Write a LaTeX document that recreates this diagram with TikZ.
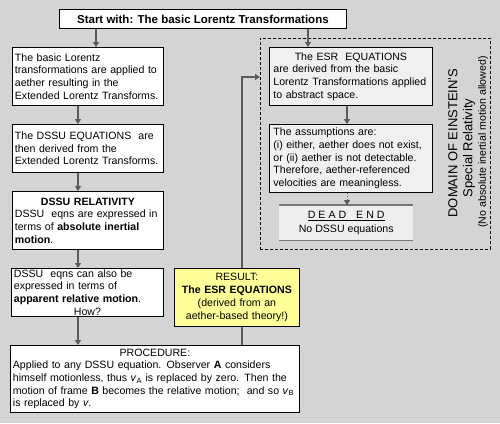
\documentclass[tikz,border=0pt]{standalone}
\usepackage{fontspec}
\setmainfont{Liberation Sans}
\usetikzlibrary{arrows.meta}
\definecolor{bggray}{HTML}{D4D4D4}
\definecolor{arrgray}{HTML}{5A5A5A}
\definecolor{esrfill}{HTML}{F0F0F0}
\definecolor{resfill}{HTML}{FFFF99}
\definecolor{defill}{HTML}{EEEEEE}
\definecolor{deline}{HTML}{777777}
\newcommand{\bodyfont}{\fontsize{10.6}{12.7}\selectfont}
\newcommand{\ctrline}[1]{\makebox[\hsize]{#1}}
\begin{document}
\begin{tikzpicture}[x=1pt,y=-1pt,
  box/.style={draw=black, line width=0.8pt, fill=white, anchor=north west,
    inner xsep=2.5pt, inner ysep=1pt, align=left, font=\bodyfont},
  esrbox/.style={box, fill=esrfill, inner xsep=4pt},
  resbox/.style={box, fill=resfill, align=center},
  startbox/.style={draw=black, line width=0.8pt, fill=white, anchor=north west,
    inner sep=0pt, font=\fontsize{11.5}{13}\selectfont\bfseries},
  domainbox/.style={draw=black, line width=0.8pt, dash pattern=on 3pt off 2pt,
    anchor=north west, inner sep=0pt},
  deadbox/.style={fill=defill, anchor=north west, inner sep=0pt, align=center,
    font=\bodyfont},
  deadline/.style={draw=deline, line width=1.6pt},
  conn/.style={draw=arrgray, line width=1.4pt, -{Triangle[length=5pt,width=6pt]}},
  plainline/.style={draw=arrgray, line width=1.4pt},
  rottext/.style={rotate=90, inner sep=0pt},
]
\useasboundingbox (0,0) rectangle (500,423);
\fill[bggray] (0,0) rectangle (500,423);

% coordinates for connector positions
\coordinate (ax) at (78,0);
\coordinate (sx1) at (96,0);
\coordinate (sx2) at (308,0);
\coordinate (ex) at (347,0);
\coordinate (lx) at (242,0);
\coordinate (hy) at (0,77);

% dashed domain
\node[domainbox, minimum width=230, minimum height=211] (dom) at (260,38) {};

% start
\node[startbox, minimum width=287, minimum height=19] (start) at (59,9)
  {Start with: The basic Lorentz Transformations};

% left column
\node[box, text width=146, minimum width=151, minimum height=58] (b1) at (12,47)
  {The basic Lorentz\\transformations are applied to\\aether resulting in the\\Extended Lorentz Transforms.};
\node[box, text width=146, minimum width=151, minimum height=48] (b2) at (12,124)
  {The DSSU EQUATIONS\ \ are\\then derived from the\\Extended Lorentz Transforms.};
\node[box, text width=146, minimum width=151, minimum height=58] (b3) at (12,191)
  {\ctrline{\textbf{DSSU RELATIVITY}}\\DSSU\ \ eqns are expressed in\\terms of \textbf{absolute inertial}\\\textbf{motion}.};
\node[box, text width=147, minimum width=152, minimum height=46] (b4) at (11,268)
  {DSSU\ \ eqns can also be\\expressed in terms of\\\textbf{apparent relative motion}.\\\ctrline{How?}};
\node[box, text width=284, minimum width=289, minimum height=67] (proc) at (10,345)
  {\ctrline{PROCEDURE:}\\Applied to any DSSU equation. Observer \textbf{A} considers\\himself motionless, thus \textit{v}\textsubscript{A} is replaced by zero. Then the\\motion\ of frame \textbf{B}\ becomes the relative motion;\ \ and so \textit{v}\textsubscript{B}\\is replaced by \textit{v}.};
\node[resbox, text width=120, minimum width=125, minimum height=58] (res) at (174,268)
  {RESULT:\\\textbf{The ESR EQUATIONS}\\(derived from an\\aether-based theory!)};

% right column
\node[esrbox, text width=155, minimum width=163, minimum height=58] (esr) at (269,47)
  {\ctrline{The ESR\ \ EQUATIONS}\\are derived from the basic\\Lorentz Transformations applied\\to abstract space.};
\node[esrbox, text width=155, minimum width=163, minimum height=68] (asm) at (269,124)
  {The assumptions are:\\(i) either, aether does not exist,\\or (ii) aether is not detectable.\\Therefore, aether-referenced\\velocities are meaningless.};
\node[deadbox, minimum width=134, minimum height=35] (de) at (279,205)
  {\underline{D\hspace{3pt}E\hspace{3pt}A\hspace{3pt}D\hspace{10pt}E\hspace{3pt}N\hspace{3pt}D}\\[1pt]No DSSU equations};
\draw[deadline] (de.north west) -- (de.north east);
\draw[deadline] (de.south west) -- (de.south east);

% rotated labels
\node[rottext, font=\fontsize{13}{15}\selectfont] (t1) at (453,143) {DOMAIN OF EINSTEIN'S};
\node[rottext, font=\fontsize{13}{15}\selectfont] (t2) at (469,148) {Special Relativity};
\node[rottext, font=\bodyfont] (t3) at (483,142) {(No absolute inertial motion allowed)};

% connectors
\draw[conn] (start.south -| sx1) -- (b1.north -| sx1);
\draw[conn] (start.south -| sx2) -- (esr.north -| sx2);
\draw[conn] (b1.south -| ax) -- (b2.north -| ax);
\draw[conn] (b2.south -| ax) -- (b3.north -| ax);
\draw[conn] (b3.south -| ax) -- (b4.north -| ax);
\draw[conn] (b4.south -| ax) -- (proc.north -| ax);
\draw[conn] (esr.south -| ex) -- (asm.north -| ex);
\draw[conn, line width=1pt, dotted] (asm.south -| ex) -- (de.north -| ex);
\draw[plainline] (proc.north -| lx) -- (res.south -| lx);
\draw[conn] (res.north -| lx) |- (dom.west |- hy);
\end{tikzpicture}
\end{document}
